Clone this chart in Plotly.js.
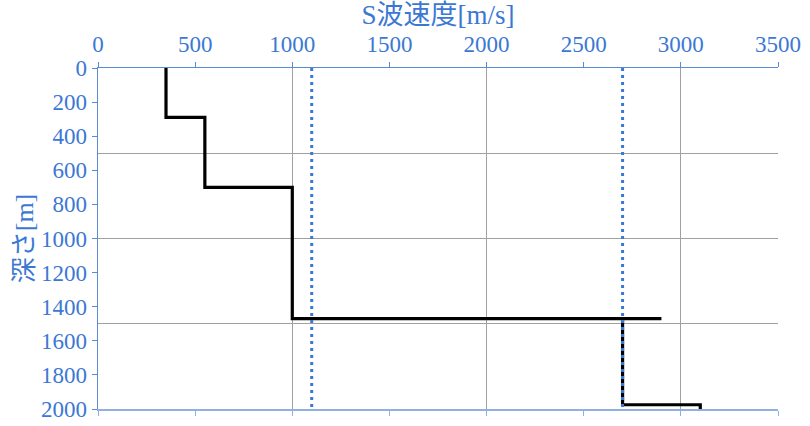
<!DOCTYPE html>
<html>
<head>
<meta charset="utf-8">
<script src="https://cdn.plot.ly/plotly-3.0.1.min.js"></script>
<style>html,body{margin:0;padding:0;background:#fff;}#chart{width:810px;height:426px;}</style>
</head>
<body>
<div id="chart"></div>
<script>
// S-wave velocity profile (step line)
const velocityUpper = [350, 350, 550, 550, 1000, 1000, 2900];
const depthUpper    = [0, 290, 290, 700, 700, 1470, 1470];
const velocityLower = [2700, 2700, 3100, 3100];
const depthLower    = [1470, 1975, 1975, 2000];
// reference velocities (dotted lines)
const refVelocities = [1100, 2700];
const refDepths     = [0, 2000];
// axis texts
const xTitle = 'S波速度[m/s]';
const yTitle = '深さ[m]';

const blue = '#3b78d4';
const axisBlue = '#5a8ad2';
const font = '"Liberation Serif", "Times New Roman", "Noto Sans CJK JP", serif';

const traces = [
  {x: velocityUpper, y: depthUpper, mode: 'lines', line: {color: '#000', width: 3.2}, xaxis: 'x', yaxis: 'y'},
  {x: velocityLower, y: depthLower, mode: 'lines', line: {color: '#000', width: 3.2}, xaxis: 'x', yaxis: 'y'}
];
refVelocities.forEach(v => {
  traces.push({x: [v, v], y: refDepths, mode: 'lines',
    line: {color: blue, width: 3, dash: '3px,4px'}, xaxis: 'x', yaxis: 'y'});
});

const layout = {
  width: 810, height: 426,
  margin: {l: 98, r: 32, t: 68, b: 17},
  paper_bgcolor: '#fff', plot_bgcolor: '#fff',
  showlegend: false,
  font: {family: font, color: blue, size: 23},
  xaxis: {
    side: 'top', range: [0, 3500], dtick: 500, tick0: 0,
    showgrid: false, zeroline: false,
    showline: true, linecolor: axisBlue, linewidth: 1.5,
    ticks: 'outside', ticklen: 5, tickcolor: axisBlue,
    tickfont: {family: font, size: 23, color: blue},
    title: {text: xTitle, font: {family: font, size: 27, color: blue}, standoff: 4}
  },
  xaxis2: {
    overlaying: 'x', side: 'bottom', range: [0, 3500], dtick: 500, tick0: 0,
    showgrid: false, zeroline: false, showticklabels: false,
    showline: true, linecolor: '#8fb0e0', linewidth: 1.5,
    ticks: 'outside', ticklen: 5, tickcolor: '#8fb0e0'
  },
  xaxis3: {
    overlaying: 'x', range: [0, 3500], dtick: 1000, tick0: 0,
    showgrid: true, gridcolor: '#a0a0a0', gridwidth: 1,
    zeroline: false, showticklabels: false, showline: false, ticks: ''
  },
  yaxis: {
    range: [2000, 0], dtick: 200, tick0: 0,
    showgrid: false, zeroline: false,
    showline: true, linecolor: axisBlue, linewidth: 1.5,
    ticks: 'outside', ticklen: 5, tickcolor: axisBlue,
    tickfont: {family: font, size: 23, color: blue},
    title: {text: yTitle, font: {family: font, size: 26, color: blue}, standoff: 0}
  },
  yaxis2: {
    overlaying: 'y', range: [2000, 0], dtick: 500, tick0: 0,
    showgrid: true, gridcolor: '#a0a0a0', gridwidth: 1,
    zeroline: false, showticklabels: false, showline: false, ticks: ''
  }
};

// grid-only helper traces bound to helper axes so they render
traces.unshift({x: [0], y: [0], mode: 'markers', marker: {opacity: 0}, xaxis: 'x3', yaxis: 'y2', hoverinfo: 'skip'});
traces.unshift({x: [0], y: [0], mode: 'markers', marker: {opacity: 0}, xaxis: 'x2', yaxis: 'y', hoverinfo: 'skip'});

Plotly.newPlot('chart', traces, layout, {staticPlot: true, displayModeBar: false});
</script>
</body>
</html>
